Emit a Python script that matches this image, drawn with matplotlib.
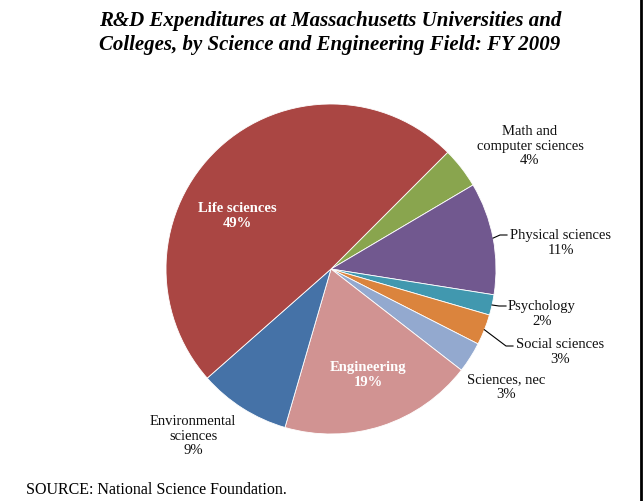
"""
Pie chart of R&D expenditures at Massachusetts universities and colleges by field, FY 2009
"""

import matplotlib
matplotlib.use("Agg")
import matplotlib.pyplot as plt
import numpy as np

# data, in clockwise order starting from the top-right
fields = ["Math and\ncomputer sciences", "Physical sciences", "Psychology", "Social sciences",
          "Sciences, nec", "Engineering", "Environmental\nsciences", "Life sciences"]
shares = [4, 11, 2, 3, 3, 19, 9, 49]
colors = ["#89A54E", "#71588F", "#4198AF", "#DB843D", "#93A9CF", "#D19392", "#4572A7", "#AA4643"]

# label layout in pixels (x, y) of the label centre, plus whether it sits inside the slice
label_px = [(530, 146), (561, 243), (542, 314), (560, 352), (506, 387), (368, 375), (193, 436), (237, 216)]
inside = [False, False, False, False, False, True, False, True]
# leader line end (pixels) for labels that need one
leader_end = [None, (507, 236), (506, 307), (513, 347), None, None, None, None]

W, H = 644, 502
CX, CY, R = 331, 270, 165

plt.rcParams["font.family"] = ["Liberation Serif", "DejaVu Serif"]

fig = plt.figure(figsize=(W / 100, H / 100), dpi=100)
ax = fig.add_axes([(CX - R) / W, (H - CY - R) / H, 2 * R / W, 2 * R / H])
wedges, _ = ax.pie(shares, colors=colors, startangle=45, counterclock=False,
                   radius=1.0, wedgeprops=dict(edgecolor="white", linewidth=0.6))
ax.set_xlim(-1, 1)
ax.set_ylim(-1, 1)
ax.set_aspect("equal")
ax.axis("off")


def to_data(px, py):
    return (px - CX) / R, (CY - py) / R


for w, name, val, (px, py), ins, lend in zip(wedges, fields, shares, label_px, inside, leader_end):
    x, y = to_data(px, py)
    txt = f"{name}\n{val}%"
    if ins:
        ax.text(x, y, txt, ha="center", va="center", fontsize=10.5, color="white",
                fontweight="bold", linespacing=1.2)
    else:
        ax.text(x, y, txt, ha="center", va="center", fontsize=10.5, color="#111111",
                linespacing=1.15)
    if lend is not None:
        mid = np.deg2rad((w.theta1 + w.theta2) / 2)
        x0, y0 = np.cos(mid), np.sin(mid)
        x1, y1 = to_data(*lend)
        xe, ye = to_data(lend[0] - 7, lend[1])
        ax.plot([x0, xe, x1], [y0, ye, y1], color="black", lw=0.8, clip_on=False)

fig.text(330 / W, 1 - 33 / H,
         "R&D Expenditures at Massachusetts Universities and\nColleges, by Science and Engineering Field: FY 2009",
         ha="center", va="center", fontsize=15, fontweight="bold", fontstyle="italic", linespacing=1.3)
fig.text(26 / W, 1 - 490 / H, "SOURCE: National Science Foundation.", ha="left", va="center", fontsize=11.5)

# frame line on the right edge
fig.add_artist(plt.Line2D([641 / W, 641 / W], [0, 1], color="black", lw=2, transform=fig.transFigure))

fig.savefig("out.png", dpi=100)
